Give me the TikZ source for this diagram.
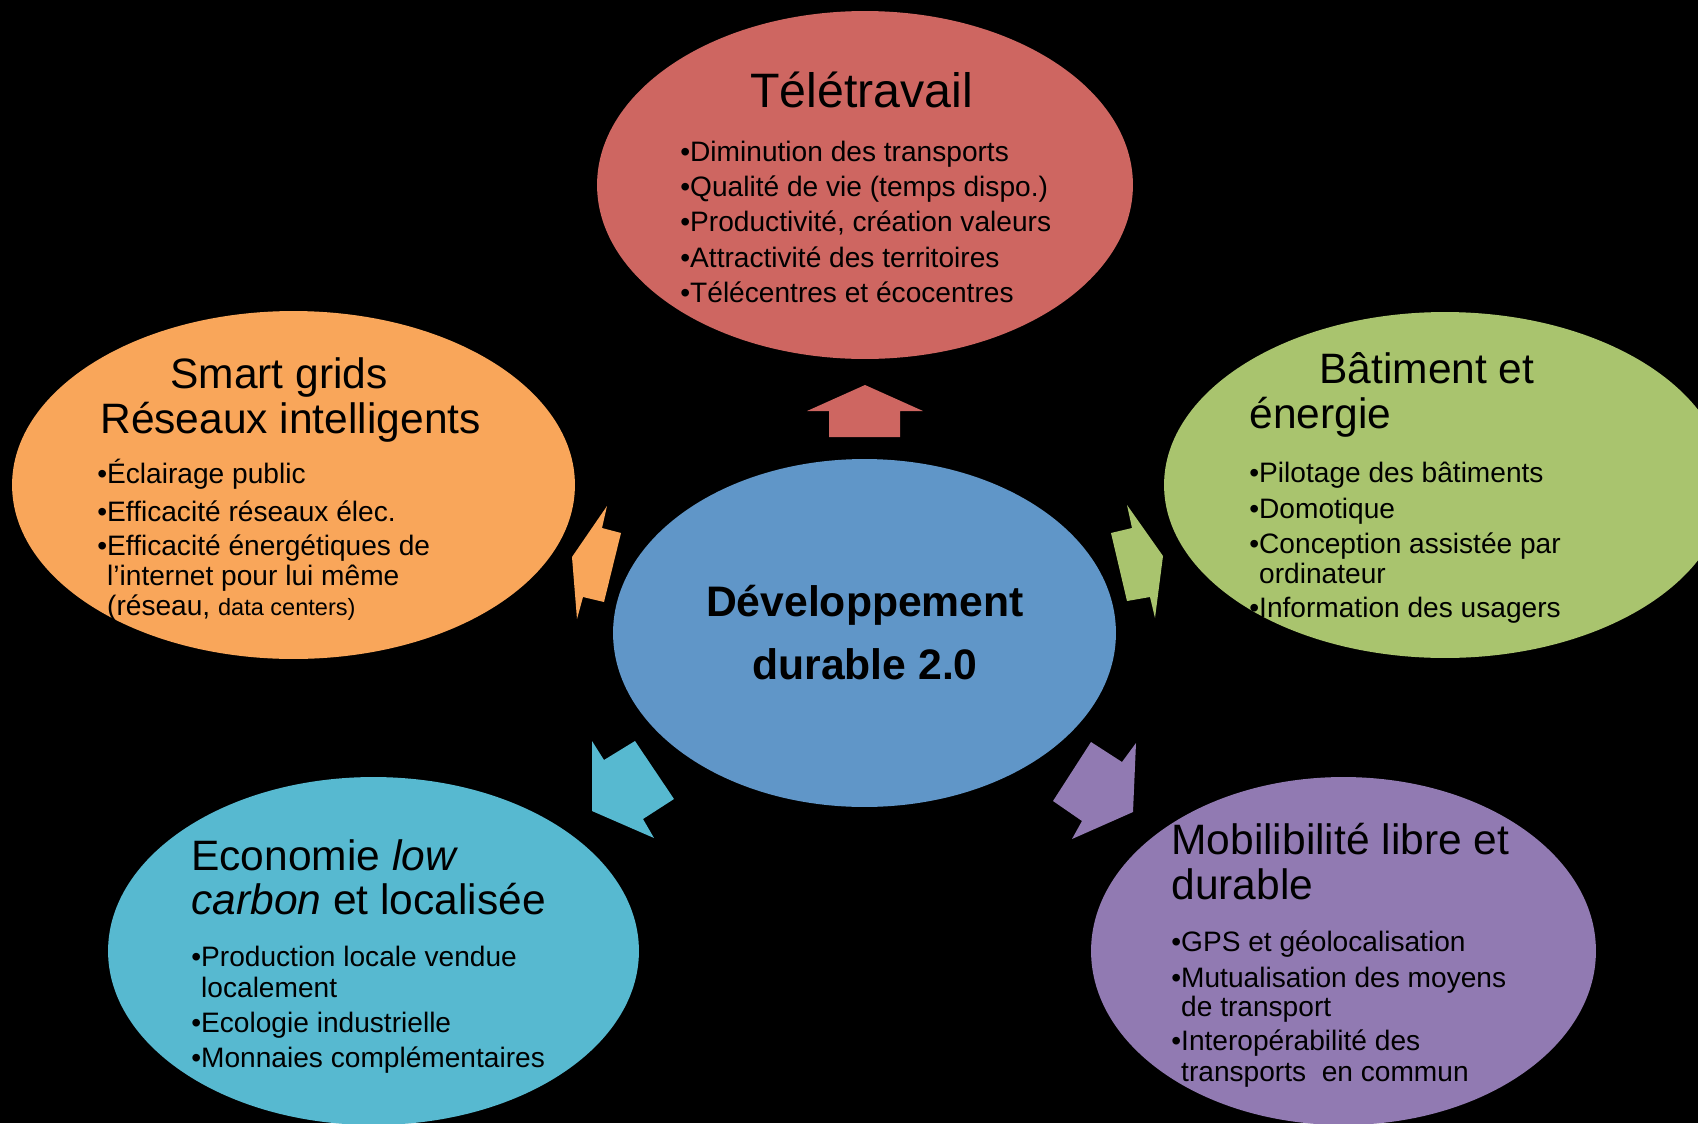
\documentclass[tikz,border=0pt]{standalone}
\usepackage{fontspec}
\setmainfont{Liberation Sans}
\usetikzlibrary{shapes.geometric}

\definecolor{rouge}{RGB}{206,102,97}
\definecolor{orange}{RGB}{249,166,90}
\definecolor{vert}{RGB}{169,196,110}
\definecolor{bleu}{RGB}{96,150,200}
\definecolor{turquoise}{RGB}{87,185,208}
\definecolor{violet}{RGB}{145,122,178}

\tikzset{
  bulle/.style={ellipse, inner sep=0pt, draw=none},
  titre/.style={anchor=base west, inner sep=0pt, font=\fontsize{24.2}{28}\selectfont},
  puce/.style={anchor=base west, inner sep=0pt, font=\fontsize{16}{19}\selectfont},
  centre/.style={anchor=base, inner sep=0pt, font=\fontsize{24.3}{28}\selectfont\bfseries}
}

\begin{document}
\begin{tikzpicture}[x=0.02cm, y=-0.02cm]
  \fill[black] (0,0) rectangle (1698,1123); % fond noir
  \useasboundingbox (0,0) rectangle (1698,1123);

  % les six bulles
  \node[bulle, fill=rouge, minimum width=10.72cm, minimum height=6.96cm] (tele) at (865,185) {};
  \node[bulle, fill=orange, minimum width=11.26cm, minimum height=6.96cm] (grid) at (293.5,485) {};
  \node[bulle, fill=vert, minimum width=11.24cm, minimum height=6.92cm] (bati) at (1445,485) {};
  \node[bulle, fill=turquoise, minimum width=10.62cm, minimum height=6.96cm] (eco) at (373.5,951) {};
  \node[bulle, fill=violet, minimum width=10.10cm, minimum height=6.96cm] (mob) at (1343.5,951) {};
  \node[bulle, fill=bleu, minimum width=10.06cm, minimum height=6.96cm] (dd) at (864.5,633) {};

  % les fleches autour du centre
  \fill[rouge] (865,385) -- (923,411) -- (900,411) -- (900,437) -- (829,437) -- (829,411) -- (807,411) -- cycle;
  \fill[orange] (572,557) -- (607,506) -- (602,528) -- (621,533) -- (604,602) -- (583,597) -- (577,619) -- cycle;
  \fill[vert] (1163,556) -- (1155,618) -- (1150,597) -- (1127,601) -- (1111,533) -- (1132,528) -- (1127,505) -- cycle;
  \fill[turquoise] (592,811) -- (592,741) -- (604,760) -- (635,741) -- (674,799) -- (643,819) -- (654,838) -- cycle;
  \fill[violet] (1133,812) -- (1072,839) -- (1082,821) -- (1053,801) -- (1091,742) -- (1122,762) -- (1136,743) -- cycle;

  % centre
  \node[centre] (dd1) at (865,616) {Développement};
  \node[centre] (dd2) at (865,679) {durable 2.0};

  % Teletravail
  \node[titre, font=\fontsize{27.5}{30}\selectfont] (tele0) at (750,107) {Télétravail};
  \node[puce] (tele1) at (680,161) {•Diminution des transports};
  \node[puce] (tele2) at (680,196) {•Qualité de vie (temps dispo.)};
  \node[puce] (tele3) at (680,231) {•Productivité, création valeurs};
  \node[puce] (tele4) at (680,267) {•Attractivité des territoires};
  \node[puce] (tele5) at (680,302) {•Télécentres et écocentres};

  % Smart grids
  \node[titre] (grid0) at (170,388) {Smart grids};
  \node[titre] (grid00) at (100,433) {Réseaux intelligents};
  \node[puce] (grid1) at (97,483) {•Éclairage public};
  \node[puce] (grid2) at (97,521) {•Efficacité réseaux élec.};
  \node[puce] (grid3) at (97,555) {•Efficacité énergétiques de};
  \node[puce] (grid4) at (97,585) {\hphantom{•}l’internet pour lui même};
  \node[puce] (grid5) at (97,615) {\hphantom{•}(réseau, {\fontsize{13.4}{16}\selectfont data centers)}};

  % Batiment
  \node[titre] (bati0) at (1319,383) {Bâtiment et};
  \node[titre] (bati00) at (1249,428) {énergie};
  \node[puce] (bati1) at (1249,482) {•Pilotage des bâtiments};
  \node[puce] (bati2) at (1249,518) {•Domotique};
  \node[puce] (bati3) at (1249,553) {•Conception assistée par};
  \node[puce] (bati4) at (1249,583) {\hphantom{•}ordinateur};
  \node[puce] (bati5) at (1249,617) {•Information des usagers};

  % Economie
  \node[titre] (eco0) at (191,870) {Economie \textit{low}};
  \node[titre] (eco00) at (191,914) {\textit{carbon} et localisée};
  \node[puce] (eco1) at (191,966) {•Production locale vendue};
  \node[puce] (eco2) at (191,997) {\hphantom{•}localement};
  \node[puce] (eco3) at (191,1032) {•Ecologie industrielle};
  \node[puce] (eco4) at (191,1067) {•Monnaies complémentaires};

  % Mobilite
  \node[titre] (mob0) at (1171,854) {Mobilibilité libre et};
  \node[titre] (mob00) at (1171,899) {durable};
  \node[puce] (mob1) at (1171,951) {•GPS et géolocalisation};
  \node[puce] (mob2) at (1171,987) {•Mutualisation des moyens};
  \node[puce] (mob3) at (1171,1016) {\hphantom{•}de transport};
  \node[puce] (mob4) at (1171,1050) {•Interopérabilité des};
  \node[puce] (mob5) at (1171,1081) {\hphantom{•}transports\ \ en commun};
\end{tikzpicture}
\end{document}
